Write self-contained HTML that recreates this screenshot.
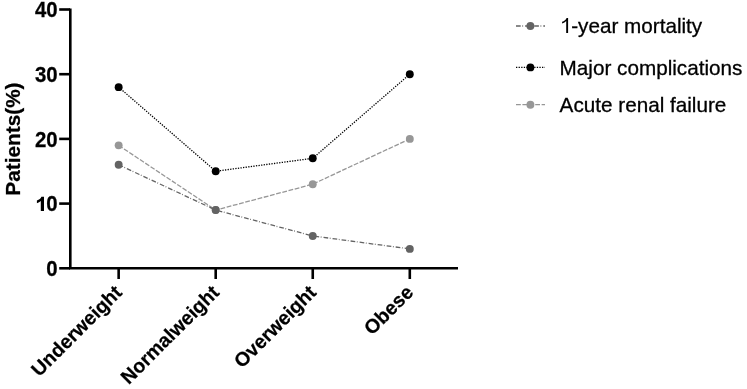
<!DOCTYPE html>
<html><head><meta charset="utf-8"><style>
html,body{margin:0;padding:0;background:#fff;}
svg{display:block;will-change:transform;}
text{font-family:"Liberation Sans",sans-serif;font-size:20.4px;fill:#000;}
.b{font-weight:bold;stroke:#000;stroke-width:0.25px;}
.r{font-size:20.7px;stroke:#000;stroke-width:0.3px;}
.xl{font-size:19.6px;}
.yl{font-size:20.8px;}
</style></head><body>
<svg width="747" height="389" viewBox="0 0 747 389">
<path d="M70.3 8.6V269.6M69 268.3H458" stroke="#000" stroke-width="2.6" fill="none"/>
<path d="M59.2 268.30H70" stroke="#000" stroke-width="2.6"/>
<text transform="translate(57.6 276.00) scale(1 1.04)" text-anchor="end" class="b">0</text>
<path d="M59.2 203.60H70" stroke="#000" stroke-width="2.6"/>
<text transform="translate(57.6 211.30) scale(1 1.04)" text-anchor="end" class="b">0</text>
<path d="M44.0 211.00V196.70H41.4C40.8 198.30 39.2 199.70 36.9 200.50V203.20C38.5 202.70 39.8 202.00 40.8 201.10V211.00Z"/>
<path d="M59.2 138.90H70" stroke="#000" stroke-width="2.6"/>
<text transform="translate(57.6 146.60) scale(1 1.04)" text-anchor="end" class="b">20</text>
<path d="M59.2 74.20H70" stroke="#000" stroke-width="2.6"/>
<text transform="translate(57.6 81.90) scale(1 1.04)" text-anchor="end" class="b">30</text>
<path d="M59.2 9.50H70" stroke="#000" stroke-width="2.6"/>
<text transform="translate(57.6 17.20) scale(1 1.04)" text-anchor="end" class="b">40</text>
<path d="M118.65 268H118.65V279" stroke="#000" stroke-width="2.6"/>
<path d="M215.7 268H215.7V279" stroke="#000" stroke-width="2.6"/>
<path d="M312.75 268H312.75V279" stroke="#000" stroke-width="2.6"/>
<path d="M409.8 268H409.8V279" stroke="#000" stroke-width="2.6"/>
<polyline points="118.65,145.37 215.7,210.07 312.75,184.19 409.8,138.90" fill="none" stroke="#979797" stroke-width="1.3" stroke-dasharray="4.8,1.6"/>
<polyline points="118.65,87.14 215.7,171.25 312.75,158.31 409.8,74.20" fill="none" stroke="#000000" stroke-width="1.3" stroke-dasharray="1.3,1.3"/>
<polyline points="118.65,164.78 215.7,210.07 312.75,235.95 409.8,248.89" fill="none" stroke="#636363" stroke-width="1.3" stroke-dasharray="4.7,1.6,0.8,2"/>
<circle cx="118.65" cy="145.37" r="3.95" fill="#979797"/>
<circle cx="215.7" cy="210.07" r="3.95" fill="#979797"/>
<circle cx="312.75" cy="184.19" r="3.95" fill="#979797"/>
<circle cx="409.8" cy="138.90" r="3.95" fill="#979797"/>
<circle cx="118.65" cy="87.14" r="3.95" fill="#000000"/>
<circle cx="215.7" cy="171.25" r="3.95" fill="#000000"/>
<circle cx="312.75" cy="158.31" r="3.95" fill="#000000"/>
<circle cx="409.8" cy="74.20" r="3.95" fill="#000000"/>
<circle cx="118.65" cy="164.78" r="3.95" fill="#636363"/>
<circle cx="215.7" cy="210.07" r="3.95" fill="#636363"/>
<circle cx="312.75" cy="235.95" r="3.95" fill="#636363"/>
<circle cx="409.8" cy="248.89" r="3.95" fill="#636363"/>
<text transform="translate(20.2 195.7) rotate(-90)" class="b yl">Patients(%)</text>
<text transform="translate(123.2 293.6) rotate(-45)" text-anchor="end" class="b xl">Underweight</text>
<text transform="translate(220.3 293.6) rotate(-45)" text-anchor="end" class="b xl">Normalweight</text>
<text transform="translate(317.4 293.6) rotate(-45)" text-anchor="end" class="b xl">Overweight</text>
<text transform="translate(414.4 293.6) rotate(-45)" text-anchor="end" class="b xl">Obese</text>
<path d="M516 26.0H545" stroke="#636363" stroke-width="1.3" stroke-dasharray="4.7,1.6,0.8,2"/>
<circle cx="530.4" cy="26.0" r="3.95" fill="#636363"/>
<text x="571.17" y="33.3" class="r">-year mortality</text>
<path d="M568.1 33.00V18.00H566.6C566.0 19.60 564.3 21.10 562.1 21.80V23.50C563.8 23.00 565.2 22.10 566.2 21.10V33.00Z"/>
<path d="M516 67.4H545" stroke="#000000" stroke-width="1.3" stroke-dasharray="1.3,1.3"/>
<circle cx="530.4" cy="67.4" r="3.95" fill="#000000"/>
<text x="559.6" y="74.7" class="r">Major complications</text>
<path d="M516 104.7H545" stroke="#979797" stroke-width="1.3" stroke-dasharray="4.8,1.6"/>
<circle cx="530.4" cy="104.7" r="3.95" fill="#979797"/>
<text x="559.6" y="112.0" class="r">Acute renal failure</text>
</svg>
</body></html>
